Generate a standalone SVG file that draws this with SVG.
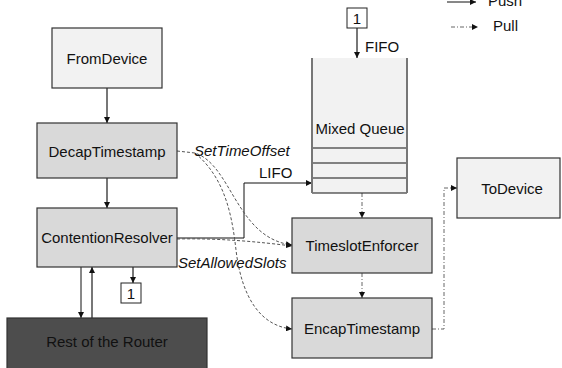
<svg xmlns="http://www.w3.org/2000/svg" width="562" height="368" viewBox="0 0 562 368">
  <style>
    text { font-family: "Liberation Sans", Arial, sans-serif; font-size: 15px; fill: #111; }
    .lbl { text-anchor: middle; }
    .it { font-style: italic; }
    .box { stroke: #333; stroke-width: 1.2; }
    .light { fill: #f2f2f2; }
    .mid { fill: #d9d9d9; }
    .dark { fill: #4d4d4d; }
    .push { fill: none; stroke: #111; stroke-width: 1; }
    .pushg { fill: none; stroke: #777; stroke-width: 2; }
    .pull { fill: none; stroke: #666; stroke-width: 1; stroke-dasharray: 4 2 1 2; }
    .ctl { fill: none; stroke: #555; stroke-width: 1; stroke-dasharray: 3 2; }
  </style>
  <defs>
    <marker id="ah" viewBox="0 0 6 6" refX="6" refY="3" markerWidth="6" markerHeight="6" markerUnits="userSpaceOnUse" orient="auto">
      <path d="M0,0 L6,3 L0,6 z" fill="#111"/>
    </marker>
  </defs>
  <rect width="562" height="368" fill="#fff"/>

  <!-- legend -->
  <g id="legend">
    <line class="push" x1="447" y1="2" x2="476" y2="2" marker-end="url(#ah)"/>
    <text x="488" y="6">Push</text>
    <line class="pull" x1="451" y1="27" x2="478" y2="27" marker-end="url(#ah)"/>
    <text x="493" y="31">Pull</text>
  </g>

  <!-- connectors -->
  <g id="connectors">
    <line class="pushg" x1="107" y1="88" x2="107" y2="123" marker-end="url(#ah)"/>
    <line class="pushg" x1="107" y1="178" x2="107" y2="208" marker-end="url(#ah)"/>
    <line class="push" x1="81" y1="267" x2="81" y2="318" marker-end="url(#ah)"/>
    <line class="pushg" x1="92" y1="318" x2="92" y2="267" marker-end="url(#ah)"/>
    <line class="pushg" x1="133" y1="267" x2="133" y2="283" marker-end="url(#ah)"/>
    <line class="push" x1="107" y1="355" x2="107" y2="366" marker-end="url(#ah)"/>
    <line class="pushg" x1="357" y1="28" x2="357" y2="58" marker-end="url(#ah)"/>
    <polyline class="push" points="177,238 244,238 244,183 312,183" marker-end="url(#ah)"/>
    <line class="pull" x1="362" y1="193" x2="362" y2="218" marker-end="url(#ah)"/>
    <line class="pull" x1="362" y1="273" x2="362" y2="298" marker-end="url(#ah)"/>
    <polyline class="pull" points="432,329 444,329 444,188 457,188" marker-end="url(#ah)"/>
    <!-- control calls -->
    <path class="ctl" d="M177,151 L195,153 C232,165 236,238 292,245" marker-end="url(#ah)"/>
    <path class="ctl" d="M195,153 C225,178 232,215 236,250 C242,300 262,326 292,329" marker-end="url(#ah)"/>
    <path class="ctl" d="M177,239 C220,238 260,242 292,246" marker-end="url(#ah)"/>
  </g>

  <!-- nodes -->
  <g id="fromdevice">
    <rect class="box light" x="52" y="28" width="110" height="60"/>
    <text class="lbl" x="107" y="64">FromDevice</text>
  </g>
  <g id="decaptimestamp">
    <rect class="box mid" x="37" y="123" width="140" height="55"/>
    <text class="lbl" x="107" y="157">DecapTimestamp</text>
  </g>
  <g id="contentionresolver">
    <rect class="box mid" x="37" y="208" width="140" height="59"/>
    <text class="lbl" x="107" y="243">ContentionResolver</text>
  </g>
  <g id="slot1-low">
    <rect x="121" y="283" width="20" height="20" fill="#fff" stroke="#222" stroke-width="1"/>
    <text class="lbl" x="131" y="299">1</text>
  </g>
  <g id="router">
    <rect class="box dark" x="7" y="318" width="200" height="52"/>
    <text class="lbl" x="107" y="347">Rest of the Router</text>
  </g>
  <g id="slot1-top">
    <rect x="347" y="8" width="20" height="20" fill="#fff" stroke="#222" stroke-width="1"/>
    <text class="lbl" x="357" y="24">1</text>
  </g>
  <text x="365" y="52">FIFO</text>
  <text x="259" y="178">LIFO</text>
  <text class="it" x="194" y="156">SetTimeOffset</text>
  <text class="it" x="178" y="268">SetAllowedSlots</text>
  <g id="mixedqueue">
    <rect x="312" y="58" width="95" height="135" fill="#f2f2f2"/>
    <line x1="312" y1="148" x2="407" y2="148" stroke="#111" stroke-width="1"/>
    <line x1="312" y1="163" x2="407" y2="163" stroke="#111" stroke-width="1"/>
    <line x1="312" y1="178" x2="407" y2="178" stroke="#111" stroke-width="1"/>
    <line x1="312" y1="193" x2="407" y2="193" stroke="#111" stroke-width="1"/>
    <line x1="312" y1="58" x2="312" y2="193" stroke="#777" stroke-width="2"/>
    <line x1="407" y1="58" x2="407" y2="193" stroke="#777" stroke-width="2"/>
    <text class="lbl" x="360" y="134">Mixed Queue</text>
  </g>
  <g id="timeslotenforcer">
    <rect class="box mid" x="292" y="218" width="140" height="55"/>
    <text class="lbl" x="362" y="251">TimeslotEnforcer</text>
  </g>
  <g id="encaptimestamp">
    <rect class="box mid" x="292" y="298" width="140" height="60"/>
    <text class="lbl" x="362" y="334">EncapTimestamp</text>
  </g>
  <g id="todevice">
    <rect class="box light" x="457" y="158" width="103" height="60"/>
    <text class="lbl" x="512" y="194">ToDevice</text>
  </g>
</svg>
